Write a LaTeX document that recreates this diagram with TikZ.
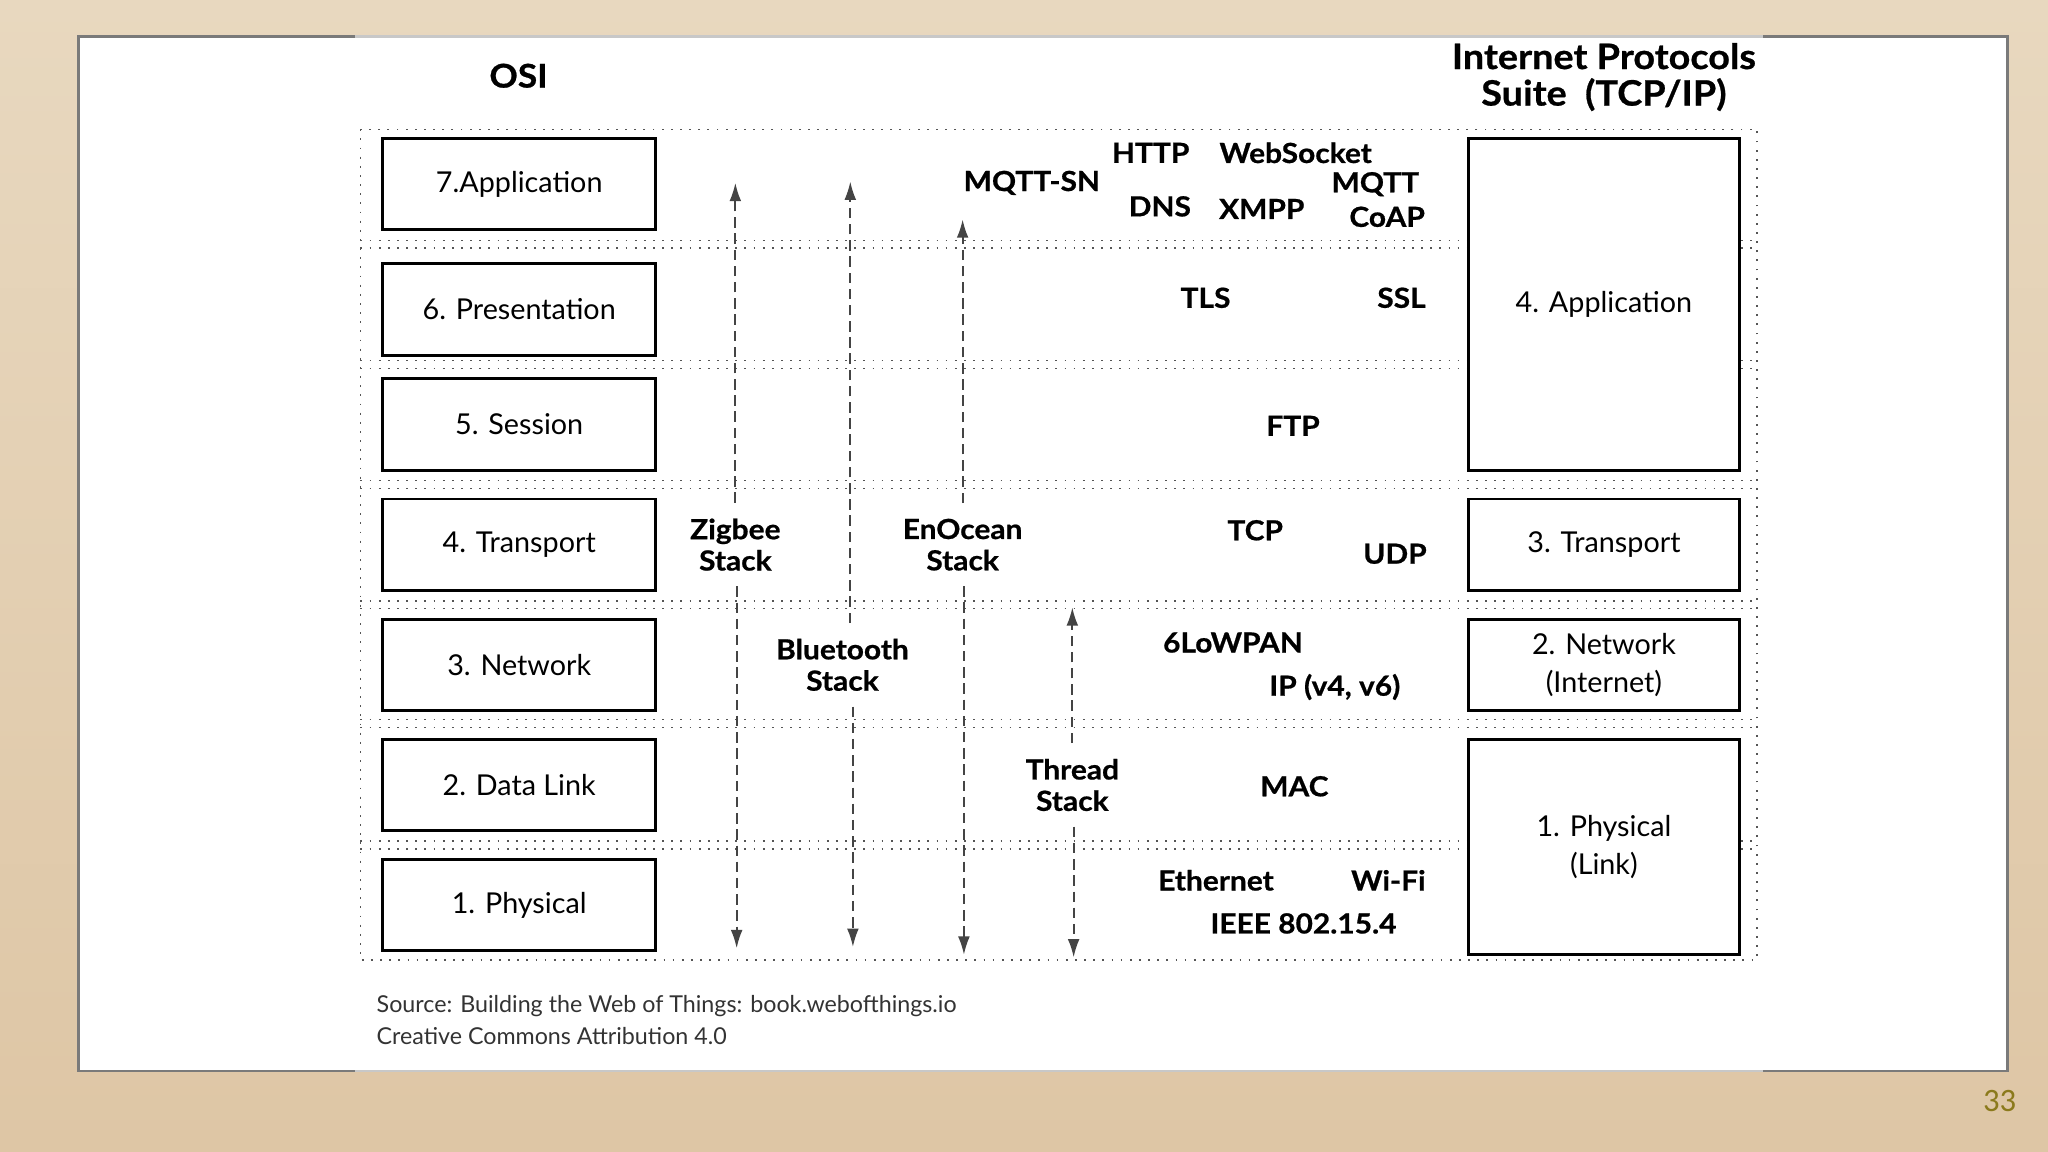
\documentclass[tikz,border=0pt]{standalone}
\usepackage{fontspec}
\setmainfont{Lato}
\newfontfamily\protofont[BoldFeatures={FakeBold=0.7,FakeStretch=1.08}]{Lato}
\newfontfamily\pagefont{Carlito}
\usetikzlibrary{arrows.meta}
\definecolor{woodtop}{HTML}{E8D8BF}
\definecolor{woodbot}{HTML}{DEC6A5}
\definecolor{paneledge}{HTML}{7A7A7A}
\definecolor{paneledgelight}{HTML}{C8C8C8}
\definecolor{dotcol}{HTML}{555555}
\definecolor{arrowcol}{HTML}{444444}
\definecolor{pagenum}{HTML}{8B7A1C}
\definecolor{srccol}{HTML}{333333}
\begin{document}
\begin{tikzpicture}[x=0.5pt,y=-0.5pt,
  layerbox/.style={draw=black,line width=1.1pt,fill=white,inner sep=0pt,align=center,
     minimum width=104.5pt,font=\fontsize{11}{14.5}\selectfont},
  osibox/.style={layerbox,minimum height=35pt},
  proto/.style={font=\protofont\fontsize{10.6}{12}\selectfont\bfseries,inner sep=1pt},
  stacklabel/.style={proto,align=center,inner sep=2pt,outer sep=4pt},
  sepline/.style={draw=dotcol,line width=0.6pt,dash pattern=on 0.7pt off 2.8pt},
  stackline/.style={draw=arrowcol,line width=0.7pt,dash pattern=on 4pt off 2.2pt,
     -{Latex[length=7pt,width=4.5pt]}},
  title/.style={font=\protofont\fontsize{12.5}{14}\selectfont\bfseries,align=center}
]
\shade[top color=woodtop,bottom color=woodbot] (0,0) rectangle (1568,882);
\path[use as bounding box] (0,0) rectangle (1568,882);
\draw[paneledge,line width=1pt,fill=white] (60,28) rectangle (1537,820);
\draw[paneledgelight,line width=1.1pt] (272,28) -- (1350,28);
\draw[paneledgelight,line width=1.1pt] (272,820) -- (1350,820);

% titles
\node[title] (osititle) at (397,58) {OSI};
\node[title,font=\protofont\fontsize{13.4}{14}\selectfont\bfseries] (tcptitle) at (1228,59) {Internet Protocols\\Suite\ \ (TCP/IP)};

% dotted grid
\draw[sepline] (276,99) rectangle (1345,735);
\foreach \yy in {184,190,276,282,368,374,460,466,551,557,644,650}
  \draw[sepline] (276,\yy) -- (1345,\yy);

% OSI boxes
\node[osibox] (o7) at (397.5,141) {7.Application};
\node[osibox] (o6) at (397.5,237) {6. Presentation};
\node[osibox] (o5) at (397.5,325) {5. Session};
\node[osibox] (o4) at (397.5,417) {4. Transport};
\node[osibox] (o3) at (397.5,509) {3. Network};
\node[osibox] (o2) at (397.5,601) {2. Data Link};
\node[osibox] (o1) at (397.5,693) {1. Physical};

% TCP/IP boxes
\node[layerbox,minimum width=104pt,minimum height=127pt] (t4) at (1228,233) {4. Application};
\node[layerbox,minimum width=104pt,minimum height=35pt] (t3) at (1228,417) {3. Transport};
\node[layerbox,minimum width=104pt,minimum height=35pt] (t2) at (1228,509) {2. Network\\(Internet)};
\node[layerbox,minimum width=104pt,minimum height=82.5pt] (t1) at (1228,648.5) {1. Physical\\(Link)};

% protocol labels
\node[proto] (http) at (881,117) {HTTP};
\node[proto] (ws) at (992,117) {WebSocket};
\node[proto] (mqttsn) at (790,140) {MQTT-SN};
\node[proto] (mqtt) at (1053,141) {MQTT};
\node[proto] (dns) at (888,158) {DNS};
\node[proto] (xmpp) at (966,160) {XMPP};
\node[proto] (coap) at (1062,166) {CoAP};
\node[proto] (tls) at (923,228) {TLS};
\node[proto] (ssl) at (1073,228) {SSL};
\node[proto] (ftp) at (990,326) {FTP};
\node[proto] (tcp) at (961,406) {TCP};
\node[proto] (udp) at (1068,424) {UDP};
\node[proto] (lowpan) at (944,492) {6LoWPAN};
\node[proto] (ip) at (1022,526) {IP (v4, v6)};
\node[proto] (mac) at (991,602) {MAC};
\node[proto] (eth) at (931,674) {Ethernet};
\node[proto] (wifi) at (1063,674) {Wi-Fi};
\node[proto] (ieee) at (998,707) {IEEE 802.15.4};

% stacks
\node[stacklabel] (zig) at (563,417) {Zigbee\\Stack};
\node[stacklabel] (bt) at (645,509) {Bluetooth\\Stack};
\node[stacklabel] (eno) at (737,417) {EnOcean\\Stack};
\node[stacklabel] (thr) at (821,601) {Thread\\Stack};

\coordinate (zigtop) at (563,140);
\coordinate (zigbot) at (564,726);
\coordinate (bttop) at (651,139);
\coordinate (btbot) at (653,725);
\coordinate (enotop) at (737,168);
\coordinate (enobot) at (738,731);
\coordinate (thrtop) at (821,465);
\coordinate (thrbot) at (822,733);

\draw[stackline] (zig.north -| zigtop) -- (zigtop);
\draw[stackline] (zig.south -| zigbot) -- (zigbot);
\draw[stackline] (bt.north -| bttop) -- (bttop);
\draw[stackline] (bt.south -| btbot) -- (btbot);
\draw[stackline] (eno.north -| enotop) -- (enotop);
\draw[stackline] (eno.south -| enobot) -- (enobot);
\draw[stackline] (thr.north -| thrtop) -- (thrtop);
\draw[stackline] (thr.south -| thrbot) -- (thrbot);

% source
\node[anchor=west,align=left,text=srccol,font=\fontsize{8.9}{12}\selectfont,inner sep=0pt] (src) at (288,781)
  {Source: Building the Web of Things: book.webofthings.io\\Creative Commons Attribution 4.0};

% page number
\node[text=pagenum,font=\pagefont\fontsize{12.5}{14}\selectfont] (page) at (1531,843) {33};
\end{tikzpicture}
\end{document}
